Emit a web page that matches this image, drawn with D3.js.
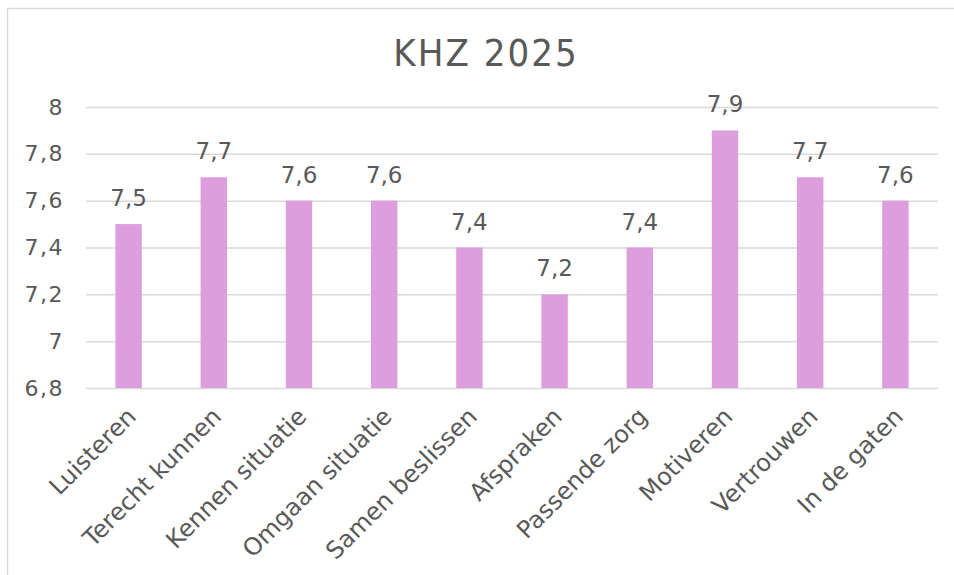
<!DOCTYPE html>
<html><head><meta charset="utf-8">
<script src="https://cdn.jsdelivr.net/npm/d3@7"></script>
<style>body{margin:0;background:#fff;} text{font-family:"DejaVu Sans",Verdana,sans-serif;fill:#595959;}</style>
</head><body>
<svg id="c" width="954" height="575"></svg>
<script>
const categories = ["Luisteren","Terecht kunnen","Kennen situatie","Omgaan situatie","Samen beslissen","Afspraken","Passende zorg","Motiveren","Vertrouwen","In de gaten"];
const values = [7.5,7.7,7.6,7.6,7.4,7.2,7.4,7.9,7.7,7.6];
const yTicks = [6.8,7,7.2,7.4,7.6,7.8,8];
const title = "KHZ 2025";

const svg = d3.select("#c");
const fmt = d => String(d).replace(".", ",");
svg.append("rect").attr("x",7.5).attr("y",8.5).attr("width",960).attr("height",600)
  .attr("fill","#fff").attr("stroke","#d9d9d9").attr("stroke-width",1.5);

const m = {l:86, r:938, t:107, b:388};
const x = d3.scaleBand().domain(categories).range([m.l,m.r]).paddingInner(0.69).paddingOuter(0.345);
const y = d3.scaleLinear().domain([6.8,8]).range([m.b,m.t]);

svg.append("text").attr("x",486).attr("y",66).attr("text-anchor","middle")
  .style("font-family","'DejaVu Sans Condensed','DejaVu Sans',sans-serif").style("font-stretch","condensed")
  .style("letter-spacing","2px")
  .attr("font-size",38).text(title);

const ya = svg.append("g").attr("transform",`translate(${m.l},0)`)
  .call(d3.axisLeft(y).tickValues(yTicks).tickSize(-(m.r-m.l)).tickFormat(fmt).tickPadding(22));
ya.select(".domain").remove();
ya.selectAll("line").attr("stroke","#d9d9d9").attr("stroke-width",1.5);
ya.selectAll("text").attr("font-size",22).style("letter-spacing","1.5px").style("fill","#595959");

svg.append("g").selectAll("rect").data(values).join("rect")
  .attr("x",(d,i)=>x(categories[i])).attr("width",x.bandwidth())
  .attr("y",d=>y(d)).attr("height",d=>y(6.8)-y(d)).attr("fill","#dc9edc");

svg.append("g").selectAll("text").data(values).join("text")
  .attr("x",(d,i)=>x(categories[i])+x.bandwidth()/2).attr("y",d=>y(d)-18)
  .attr("text-anchor","middle").attr("font-size",23).text(fmt);

const xa = svg.append("g").attr("transform",`translate(0,${m.b})`)
  .call(d3.axisBottom(x).tickSize(0).tickPadding(0));
xa.select(".domain").remove();
xa.selectAll("text").attr("font-size",24).style("fill","#595959")
  .attr("text-anchor","end").attr("dy",0)
  .attr("transform","translate(9,30) rotate(-45)");
</script>
</body></html>
